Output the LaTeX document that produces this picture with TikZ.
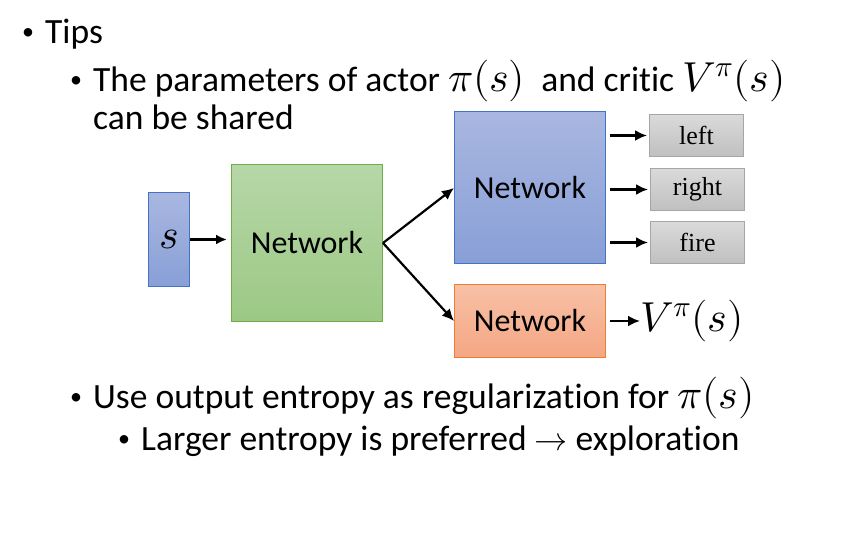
\documentclass[tikz,border=0pt]{standalone}
\usepackage{fontspec}
\usepackage{unicode-math}
\setmainfont{Carlito}[RawFeature={-liga}]
\setmathfont{Latin Modern Math}[Scale=1.18]
\newfontfamily\labelfont{Liberation Serif}
\usetikzlibrary{positioning, calc, arrows.meta}
\tikzset{>={Latex[length=12pt,width=11pt]}}

\definecolor{blueTop}{HTML}{A9B7E0}
\definecolor{blueBot}{HTML}{889FD7}
\definecolor{blueLine}{HTML}{4472C4}
\definecolor{greenTop}{HTML}{B6D7A8}
\definecolor{greenBot}{HTML}{9CC884}
\definecolor{greenLine}{HTML}{70AD47}
\definecolor{orangeTop}{HTML}{F8C0A6}
\definecolor{orangeBot}{HTML}{F4A784}
\definecolor{orangeLine}{HTML}{ED7D31}
\definecolor{grayTop}{HTML}{DADADA}
\definecolor{grayBot}{HTML}{C0C0C0}
\definecolor{grayLine}{HTML}{A6A6A6}

\newcommand{\bul}{\llap{\raisebox{4pt}{\fontsize{24}{24}\selectfont\textbullet}\hspace{11pt}}}

\tikzset{
    txt/.style = {anchor = base west, inner sep = 0pt, font = \fontsize{35.5}{40}\selectfont},
    netbox/.style = {draw, line width = 1pt, anchor = north west, inner sep = 0pt,
        font = \fontsize{32}{36}\selectfont},
    outbox/.style = {draw = grayLine, line width = 1pt, anchor = north west, inner sep = 0pt,
        top color = grayTop, bottom color = grayBot, minimum width = 94pt, minimum height = 42pt,
        font = \labelfont\fontsize{26}{28}\selectfont},
    link/.style = {->, line width = 2.2pt, shorten > = 2pt}
}

\begin{document}
\begin{tikzpicture}[x = 1pt, y = -1pt]

    \useasboundingbox (0,0) rectangle (841,540);

    % bullet text
    \node[txt] (tips) at (45,44) {\bul Tips};
    \node[txt] (share1) at (93,92) {\bul The parameters of actor $\pi(s)$\ \ and critic $V^{\pi}(s)$};
    \node[txt] (share2) at (93,130) {can be shared};
    \node[txt] (entropy) at (93,408) {\bul Use output entropy as regularization for $\pi(s)$};
    \node[txt] (larger) at (141,450) {\bul Larger entropy is preferred {\fontsize{28}{30}\selectfont$\rightarrow$} exploration};

    % networks
    \node[netbox, draw = blueLine, top color = blueTop, bottom color = blueBot,
          minimum width = 41pt, minimum height = 94pt, font = \fontsize{35.5}{40}\selectfont] (s) at (148,192) {$s$};
    \node[netbox, draw = greenLine, top color = greenTop, bottom color = greenBot,
          minimum width = 151pt, minimum height = 157pt] (shared) at (231,164) {Network};
    \node[netbox, draw = blueLine, top color = blueTop, bottom color = blueBot,
          minimum width = 151pt, minimum height = 152pt] (actor) at (454,111) {};
    \node[inner sep = 0pt, font = \fontsize{32}{36}\selectfont] (actortext) at (530,188) {Network};
    \node[netbox, draw = orangeLine, top color = orangeTop, bottom color = orangeBot,
          minimum width = 151pt, minimum height = 73pt] (critic) at (454,284) {Network};

    % actions
    \node[outbox] (left) at (649,114) {left};
    \node[outbox] (right) at (650,168) {right};
    \node[outbox] (fire) at (650,221) {fire};
    \node[anchor = west, inner sep = 0pt, font = \fontsize{35.5}{40}\selectfont] (value) at (640,321) {$V^{\pi}(s)$};

    \draw[link, line width = 3.2pt, shorten > = 4pt, -{Latex[length=11pt,width=10pt]}] (s.east) -- (s.east -| shared.west);
    \draw[link, shorten > = 0pt] (shared.east) -- (actor.west |- actortext);
    \draw[link, shorten > = 0pt] (shared.east) -- (critic.west);
    \draw[link] ($(actor.east |- left.west) + (4,0)$) -- (left.west);
    \draw[link] ($(actor.east |- right.west) + (4,0)$) -- (right.west);
    \draw[link] ($(actor.east |- fire.west) + (4,0)$) -- (fire.west);
    \draw[link, shorten > = 0pt] ($(critic.east) + (4,0)$) -- (value.west);

\end{tikzpicture}
\end{document}
